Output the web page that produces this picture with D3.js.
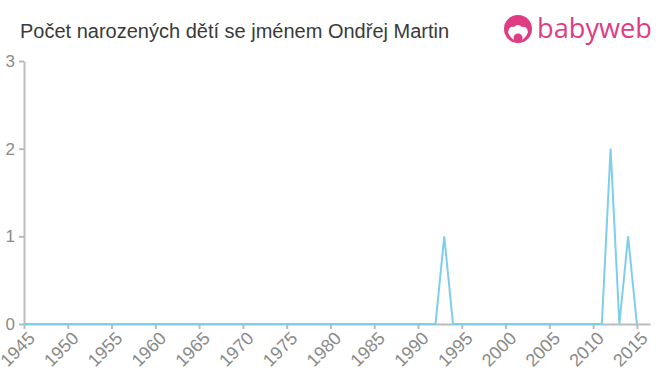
<!DOCTYPE html>
<html>
<head>
<meta charset="utf-8">
<script src="https://cdn.jsdelivr.net/npm/d3@7"></script>
<style>
  body { margin: 0; background: #fff; }
  svg { font-family: "Liberation Sans", Arial, sans-serif; }
</style>
</head>
<body>
<script>
//data
let years = [1945, 1946, 1947, 1948, 1949, 1950, 1951, 1952, 1953, 1954,
  1955, 1956, 1957, 1958, 1959, 1960, 1961, 1962, 1963, 1964,
  1965, 1966, 1967, 1968, 1969, 1970, 1971, 1972, 1973, 1974,
  1975, 1976, 1977, 1978, 1979, 1980, 1981, 1982, 1983, 1984,
  1985, 1986, 1987, 1988, 1989, 1990, 1991, 1992, 1993, 1994,
  1995, 1996, 1997, 1998, 1999, 2000, 2001, 2002, 2003, 2004,
  2005, 2006, 2007, 2008, 2009, 2010, 2011, 2012, 2013, 2014, 2015];
let counts = [0, 0, 0, 0, 0, 0, 0, 0, 0, 0,
  0, 0, 0, 0, 0, 0, 0, 0, 0, 0,
  0, 0, 0, 0, 0, 0, 0, 0, 0, 0,
  0, 0, 0, 0, 0, 0, 0, 0, 0, 0,
  0, 0, 0, 0, 0, 0, 0, 0, 1, 0,
  0, 0, 0, 0, 0, 0, 0, 0, 0, 0,
  0, 0, 0, 0, 0, 0, 0, 2, 0, 1, 0];
let xTicks = [1945, 1950, 1955, 1960, 1965, 1970, 1975, 1980, 1985, 1990, 1995, 2000, 2005, 2010, 2015];
let yTicks = [0, 1, 2, 3];
let title = "Počet narozených dětí se jménem Ondřej Martin";

let width = 660, height = 375;
let margin = { top: 61, right: 10, bottom: 51, left: 24 };

let svg = d3.select("body").append("svg")
  .attr("width", width)
  .attr("height", height);

let x = d3.scaleLinear().domain([1945, 2016.5]).range([margin.left, width - margin.right]);
let y = d3.scaleLinear().domain([0, 3]).range([height - margin.bottom, margin.top]);

//title
svg.append("text")
  .attr("x", 20).attr("y", 38)
  .attr("font-size", 20)
  .attr("fill", "#3a3a3a")
  .text(title);

//logo
let logo = svg.append("g").attr("transform", "translate(518,29)");
logo.append("circle").attr("r", 14).attr("fill", "#e03c84");
logo.append("path")
  .attr("d", "M-10,3 Q-9,-3 -4,-2 Q0,-6 4,-2 Q9,-3 10,3 Q8,10 0,13 Q-8,10 -10,3 Z")
  .attr("fill", "#fff");
logo.append("circle").attr("cx", 0).attr("cy", 9).attr("r", 4.5).attr("fill", "#e03c84");
svg.append("text")
  .attr("x", 537).attr("y", 38)
  .attr("font-size", 27)
  .attr("font-family", "'Open Sans', 'DejaVu Sans', sans-serif")
  .attr("fill", "#e03c84")
  .attr("textLength", 115)
  .attr("lengthAdjust", "spacingAndGlyphs")
  .text("babyweb");

//axes
let xAxis = d3.axisBottom(x).tickValues(xTicks).tickFormat(d3.format("d")).tickSize(5).tickSizeOuter(0);
let yAxis = d3.axisLeft(y).tickValues(yTicks).tickFormat(d3.format("d")).tickSize(5).tickSizeOuter(0);

let gx = svg.append("g")
  .attr("transform", "translate(0," + (height - margin.bottom) + ")")
  .call(xAxis);
gx.selectAll("text")
  .attr("font-size", 18)
  .attr("fill", "#8a8a8a")
  .attr("text-anchor", "end")
  .attr("x", 0).attr("y", 0)
  .attr("dy", "0.35em")
  .attr("transform", "translate(7,11) rotate(-45)");

let gy = svg.append("g")
  .attr("transform", "translate(" + margin.left + ",0)")
  .call(yAxis);
gy.selectAll("text")
  .attr("font-size", 17)
  .attr("fill", "#8a8a8a")
  .attr("x", -9);

svg.selectAll(".domain").attr("stroke", "#bbb").attr("stroke-width", 2);
svg.selectAll(".tick line").attr("stroke", "#bbb").attr("stroke-width", 2);

//line
let line = d3.line()
  .x((d, i) => x(years[i]))
  .y(d => y(d));

svg.append("path")
  .datum(counts)
  .attr("d", line)
  .attr("fill", "none")
  .attr("stroke", "#7dcfea")
  .attr("stroke-width", 2);
</script>
</body>
</html>
